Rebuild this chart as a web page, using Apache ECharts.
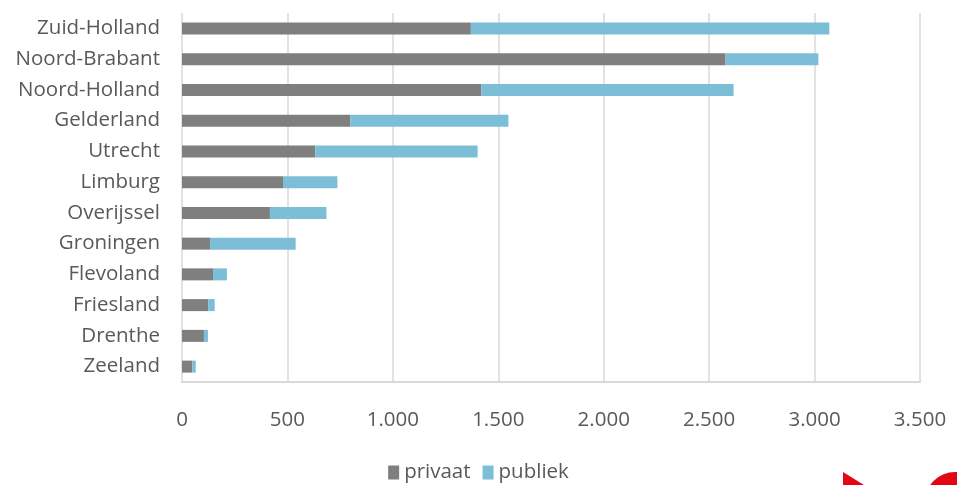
<!DOCTYPE html>
<html>
<head>
<meta charset="utf-8">
<script src="https://cdn.jsdelivr.net/npm/echarts@6/dist/echarts.min.js"></script>
<style>
html,body{margin:0;padding:0;background:#fff;}
#chart{width:957px;height:485px;}
</style>
</head>
<body>
<div id="chart"></div>
<script>
const categories = ["Zuid-Holland","Noord-Brabant","Noord-Holland","Gelderland","Utrecht","Limburg","Overijssel","Groningen","Flevoland","Friesland","Drenthe","Zeeland"];
const privaat = [1370, 2578, 1420, 798, 632, 479, 417, 133, 147, 125, 104, 49];
const publiek = [1700, 440, 1196, 750, 770, 258, 268, 406, 66, 30, 19, 16];
const seriesNames = ["privaat", "publiek"];
const xTicks = { min: 0, max: 3500, interval: 500 };

const chart = echarts.init(document.getElementById('chart'), null, { renderer: 'canvas' });
const font = '"Open Sans", Roboto, sans-serif';
chart.setOption({
  animation: false,
  backgroundColor: '#ffffff',
  textStyle: { fontFamily: font },
  grid: { left: 182, right: 37, top: 13, bottom: 103, containLabel: false },
  legend: {
    data: seriesNames,
    bottom: -3,
    left: 'center',
    itemWidth: 11,
    itemHeight: 14,
    itemGap: 12,
    icon: 'rect',
    textStyle: { fontSize: 20.5, color: '#595959', fontFamily: font }
  },
  xAxis: {
    type: 'value',
    min: xTicks.min, max: xTicks.max, interval: xTicks.interval,
    axisLine: { show: true, lineStyle: { color: '#d9d9d9', width: 2 } },
    axisTick: { show: false },
    splitLine: { show: true, lineStyle: { color: '#d9d9d9', width: 1.5 } },
    axisLabel: {
      fontSize: 20.5, color: '#595959', margin: 28, fontFamily: font,
      formatter: v => String(v).replace(/\B(?=(\d{3})+(?!\d))/g, '.')
    }
  },
  yAxis: {
    type: 'category',
    data: categories,
    inverse: true,
    axisLine: { show: false },
    axisTick: { show: false },
    axisLabel: { fontSize: 20.5, color: '#595959', margin: 22, fontFamily: font }
  },
  series: [
    { name: seriesNames[0], type: 'bar', stack: 'a', data: privaat, barWidth: 12,
      itemStyle: { color: '#7f7f7f' } },
    { name: seriesNames[1], type: 'bar', stack: 'a', data: publiek, barWidth: 12,
      itemStyle: { color: '#7cbed8' } }
  ],
  graphic: [
    { type: 'polygon', shape: { points: [[843, 472], [843, 485], [864, 485]] }, style: { fill: '#e30613' } },
    { type: 'circle', shape: { cx: 955, cy: 502, r: 30 }, style: { fill: '#e30613' } }
  ]
});
</script>
</body>
</html>
